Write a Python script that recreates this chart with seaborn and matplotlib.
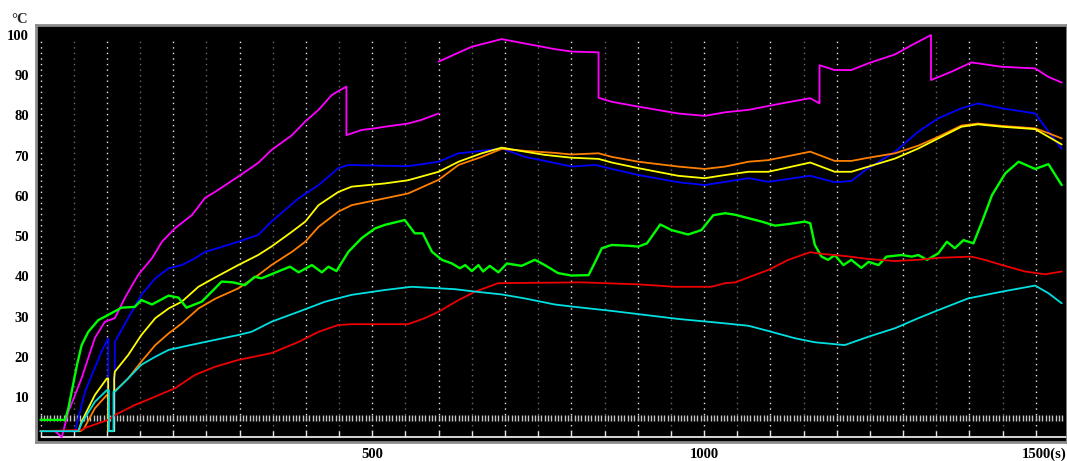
import numpy as np
import pandas as pd
import seaborn as sns
import matplotlib.pyplot as plt
from matplotlib.transforms import ScaledTranslation

plt.switch_backend("Agg")

nan = np.nan

# time (s) and temperature (°C) per channel; NaN = gap in the record
magenta_t = [0, 22, 32, 42, 62, 82, 97, 112, 127, 147, 168, 183, 203, 228, 248, 263, 298, 328, 348, 379,
             399, 419, 439, 461, 461, 484, 504, 519, 554, 574, 600, nan, 600, 650, 695, 730, 775, 800, 841, 841,
             861, 901, 961, 1001, 1032, 1067, 1117, 1160, 1174, 1174, 1197, 1222, 1248, 1288, 1313, 1342, 1342,
             1373, 1403, 1449, 1499, 1519, 1539]
magenta_v = [1.5, 1.5, 0, 6.3, 14.7, 24.7, 28.7, 29.6, 34.6, 40.3, 44.5, 48.6, 52, 55.2, 59.5, 61, 64.8, 68.2, 71.4, 75.1,
             78.5, 81.4, 85.1, 87.2, 75.1, 76.4, 76.8, 77.2, 78, 78.9, 80.5, nan, 93.4, 97.1, 99, 97.9, 96.5, 95.9, 95.7, 84.4,
             83.4, 82.2, 80.5, 79.9, 80.8, 81.4, 83, 84.3, 83, 92.5, 91.3, 91.3, 93, 95.2, 97.5, 100, 88.8,
             90.9, 93.2, 92.1, 91.7, 89.6, 88.2]

blue_t = [0, 52, 67, 92, 102, 102, 112, 112, 132, 152, 173, 193, 213, 233, 248, 263, 298, 328, 348, 389,
          419, 449, 464, 519, 554, 600, 630, 665, 695, 730, 760, 800, 836, 861, 901, 961, 1001, 1032, 1067, 1097,
          1160, 1197, 1222, 1243, 1288, 1323, 1353, 1388, 1413, 1449, 1499, 1519, 1539]
blue_v = [1.5, 1.5, 11.3, 21.3, 24.6, 1.5, 1.5, 23.7, 29.6, 35.4, 39.5, 42, 42.8, 44.5, 46.1, 46.8, 48.6, 50.3, 53.6, 59.4,
          62.7, 66.9, 67.7, 67.5, 67.4, 68.5, 70.6, 71.2, 71.8, 69.7, 68.7, 67.3, 67.7, 66.7, 65.2, 63.4, 62.7, 63.5, 64.4, 63.5,
          65, 63.4, 63.7, 66.4, 71, 76, 79.3, 81.8, 83, 81.8, 80.5, 76, 71.7]

orange_t = [0, 60, 65, 82, 100, 102, 102, 111, 111, 132, 152, 173, 193, 213, 238, 263, 298, 328, 348, 379,
            399, 419, 449, 469, 519, 554, 600, 630, 665, 695, 730, 775, 800, 841, 861, 901, 961, 1001, 1032, 1067,
            1097, 1160, 1197, 1222, 1248, 1288, 1323, 1353, 1388, 1413, 1449, 1499, 1519, 1539]
orange_v = [1.5, 1.5, 2, 7.2, 10.5, 10.5, 1.5, 1.5, 11.3, 14.6, 18.8, 22.9, 25.8, 28.3, 32, 34.4, 37, 40.3, 42.8, 46.1,
            48.6, 52.3, 56.1, 57.7, 59.4, 60.6, 64, 67.7, 69.7, 71.7, 71.2, 70.7, 70.3, 70.6, 69.7, 68.5, 67.3, 66.7, 67.3, 68.5,
            68.9, 71, 68.7, 68.7, 69.5, 70.6, 72.5, 74.7, 77.5, 78, 77.4, 76.8, 75.6, 74.3]

yellow_t = [0, 57, 62, 82, 100, 102, 102, 111, 111, 112, 132, 152, 173, 193, 213, 238, 263, 298, 328, 348,
            379, 399, 419, 449, 469, 519, 554, 600, 630, 665, 695, 730, 760, 800, 841, 861, 901, 961, 1001, 1032,
            1067, 1097, 1160, 1197, 1222, 1248, 1288, 1323, 1353, 1388, 1413, 1449, 1499, 1519, 1539]
yellow_v = [1.5, 1.5, 3.9, 10.5, 14.6, 14.6, 1.5, 1.5, 14.6, 16.3, 20.4, 25.4, 29.6, 32, 33.7, 37.4, 39.7, 42.8, 45.3, 47.4,
            51.1, 53.6, 57.7, 61, 62.3, 63.1, 63.9, 66, 68.5, 70.6, 72, 71, 70.2, 69.5, 69.2, 68.3, 66.9, 65, 64.4, 65.2,
            66, 66, 68.3, 66, 66, 67.3, 69.3, 71.8, 74.3, 77.2, 77.8, 77.2, 76.6, 74.7, 72.8]

green_t = [0, 37, 42, 55, 62, 72, 87, 102, 122, 142, 152, 168, 193, 208, 220, 243, 263, 273, 290, 308,
           323, 333, 358, 376, 389, 409, 424, 434, 446, 464, 484, 504, 519, 549, 564, 576, 590, 605, 620, 632,
           640, 650, 660, 667, 677, 690, 703, 725, 745, 760, 780, 800, 826, 836, 846, 861, 886, 901, 914, 934,
           951, 976, 996, 1014, 1032, 1047, 1087, 1107, 1127, 1152, 1160, 1167, 1177, 1187, 1197, 1210, 1222, 1237, 1248, 1263,
           1275, 1298, 1313, 1323, 1336, 1353, 1366, 1378, 1391, 1406, 1419, 1434, 1454, 1474, 1499, 1519, 1539]
green_v = [4.3, 4.3, 7.2, 18, 22.9, 26.2, 29.1, 30.4, 32.2, 32.4, 34.1, 33, 35.2, 34.7, 32.2, 33.7, 37, 38.7, 38.5, 37.8,
           39.9, 39.5, 41.2, 42.4, 41, 42.8, 41, 42.4, 41.3, 46.1, 49.5, 51.9, 52.8, 54, 50.7, 50.7, 46.1, 44.1, 43.2, 42,
           42.8, 41.3, 42.8, 41.2, 42.6, 41, 43.2, 42.6, 44.1, 42.8, 40.8, 40.2, 40.3, 43.6, 47, 47.8, 47.6, 47.4, 48.2, 52.9,
           51.5, 50.4, 51.5, 55.2, 55.7, 55.3, 53.6, 52.6, 53, 53.6, 53.2, 47.8, 44.9, 44.1, 45.3, 42.8, 44.1, 42.1, 43.6, 42.8,
           44.9, 45.3, 44.9, 45.3, 44.1, 45.7, 48.6, 47, 49, 48.2, 53.6, 60.2, 65.6, 68.5, 66.7, 67.9, 62.7]

red_t = [0, 62, 67, 102, 112, 142, 173, 203, 233, 263, 298, 348, 389, 419, 449, 469, 554, 579, 600, 630,
         655, 690, 816, 901, 956, 1011, 1032, 1047, 1097, 1127, 1160, 1177, 1215, 1248, 1288, 1323, 1353, 1403, 1423, 1449,
         1484, 1514, 1539]
red_v = [1.5, 1.8, 2.3, 4.3, 5.5, 8, 10.1, 12.2, 15.5, 17.5, 19.2, 20.9, 23.7, 26.2, 27.9, 28.1, 28.1, 29.6, 31.2, 34.1,
         36.2, 38.3, 38.5, 38, 37.4, 37.4, 38.3, 38.5, 41.6, 44.1, 46, 45.6, 45, 44.3, 43.8, 44.1, 44.6, 44.9, 44.1, 42.8,
         41.2, 40.5, 41.2]

cyan_t = [0, 57, 62, 82, 100, 103, 103, 110, 110, 112, 132, 152, 173, 193, 223, 263, 298, 318, 348, 389,
          429, 469, 519, 559, 625, 655, 695, 730, 775, 800, 861, 901, 961, 1032, 1067, 1097, 1137, 1167, 1212, 1248,
          1288, 1323, 1353, 1398, 1449, 1499, 1519, 1539]
cyan_v = [1.5, 1.5, 3.5, 8.8, 11.7, 11.7, 1.5, 1.5, 11.3, 11.3, 14.6, 18, 20, 21.7, 22.8, 24.2, 25.4, 26.2, 28.7, 31.2,
          33.7, 35.4, 36.6, 37.4, 36.8, 36.2, 35.5, 34.5, 33, 32.5, 31.4, 30.6, 29.4, 28.3, 27.7, 26.4, 24.6, 23.6, 22.9, 25,
          27.1, 29.6, 31.6, 34.5, 36.2, 37.7, 35.8, 33.3]

y_ticks = [10, 20, 30, 40, 50, 60, 70, 80, 90, 100]
x_ticks = [500, 1000, 1500]
x_labels = ["500", "1000", "1500(s)"]

series = [
    (magenta_t, magenta_v, "#ff00ff", 1.3),
    (blue_t, blue_v, "#0000ff", 1.3),
    (orange_t, orange_v, "#ff8000", 1.3),
    (yellow_t, yellow_v, "#ffff00", 1.3),
    (green_t, green_v, "#00ff00", 1.7),
    (red_t, red_v, "#ee0000", 1.3),
    (cyan_t, cyan_v, "#00e0e0", 1.3),
]

sns.set_style("dark", {"axes.facecolor": "black", "figure.facecolor": "white"})
plt.rcParams["font.family"] = ["Liberation Serif", "DejaVu Serif"]

fig = plt.figure(figsize=(10.67, 4.61), dpi=100)
ax = fig.add_axes([36 / 1067, 1 - 442 / 461, 1 - 36 / 1067, (442 - 25) / 461])
ax.grid(False)

# dotted vertical grid, brighter every 100 s
for s in np.arange(0, 1501, 50):
    col = "#e8e8e8" if s % 100 == 0 else "#6a6a6a"
    ax.vlines(s, 0, 99.3, colors=col, linestyles=(0, (1, 3)), lw=1, zorder=1)

# row of little bars at ~5 °C and the base line at 0
bars = np.arange(0, 1545, 5)
ax.plot(bars, np.full(len(bars), 4.8), ls="none", marker="|", ms=5, mew=1, color="#c4c4c4", zorder=1)
ax.hlines(0, 0, 1547, colors="#e6e6e6", lw=1.3, zorder=1)
base = np.arange(0, 1501, 50)
ax.plot(base, np.zeros(len(base)), ls="none", marker=2, ms=4, mew=1, color="#e6e6e6", zorder=1)

for t, v, col, lw in series:
    df = pd.DataFrame({"time": t, "temp": v})
    df["seg"] = df["temp"].isna().cumsum()
    df = df.dropna()
    sns.lineplot(data=df, x="time", y="temp", units="seg", estimator=None, sort=False,
                 color=col, lw=lw, ax=ax)

ax.set_xlabel("")
ax.set_ylabel("")
ax.set_xlim(-6.8, 1547)
ax.set_ylim(-1.2, 102.5)
ax.set_yticks(y_ticks)
ax.set_yticklabels([str(v) for v in y_ticks], fontweight="bold")
ax.set_xticks(x_ticks)
ax.set_xticklabels(x_labels, fontweight="bold")
ax.tick_params(axis="both", length=0, labelsize=10.5, colors="black")
ax.tick_params(axis="y", pad=5)
ax.tick_params(axis="x", pad=4)

# keep "1500" centred on its tick, "(s)" hangs to the right
last = ax.get_xticklabels()[-1]
last.set_transform(last.get_transform() + ScaledTranslation(0.08, 0, fig.dpi_scale_trans))

for sp in ax.spines.values():
    sp.set_visible(True)
    sp.set_color("#8c8c8c")
    sp.set_linewidth(2)

fig.text(11 / 1067, 1 - 23 / 461, "°C", fontsize=10.5, fontweight="bold", ha="left", va="baseline")

fig.savefig("out.png", dpi=100)
